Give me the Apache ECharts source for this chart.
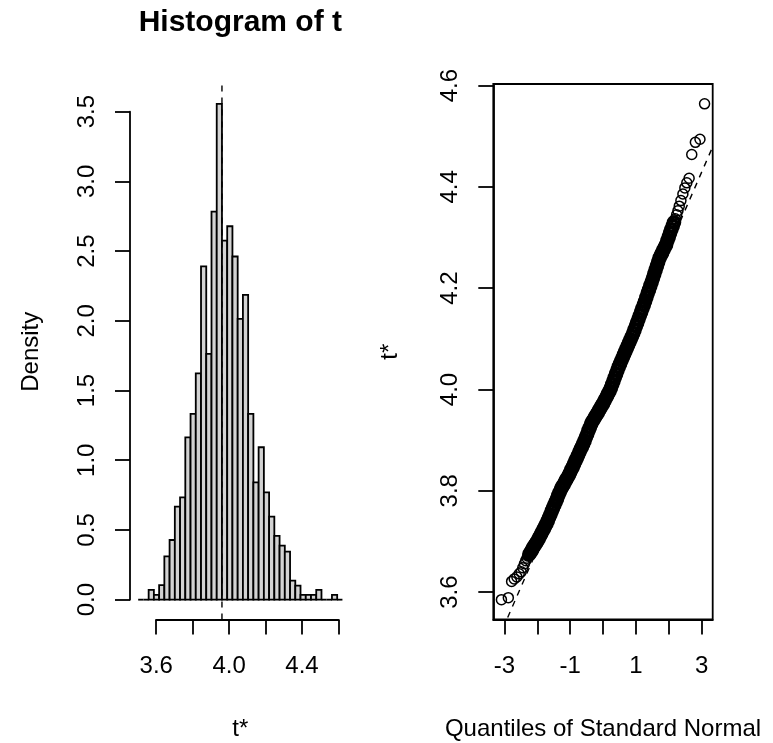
<!DOCTYPE html>
<html>
<head>
<meta charset="utf-8">
<script src="https://cdn.jsdelivr.net/npm/echarts@6/dist/echarts.min.js"></script>
<style>
html,body{margin:0;padding:0;background:#fff;}
#main{width:773px;height:743px;}
</style>
</head>
<body>
<div id="main"></div>
<script>
// histogram of the bootstrap replicates t*
var breaks = [3.5010, 3.5297, 3.5585, 3.5872, 3.6160, 3.6447, 3.6734, 3.7022, 3.7309, 3.7597,
	3.7884, 3.8171, 3.8459, 3.8746, 3.9034, 3.9321, 3.9608, 3.9896, 4.0183, 4.0471,
	4.0758, 4.1045, 4.1333, 4.1620, 4.1908, 4.2195, 4.2482, 4.2770, 4.3057, 4.3345,
	4.3632, 4.3919, 4.4207, 4.4494, 4.4782, 4.5069, 4.5356, 4.5644, 4.5931, 4.6219];
var density = [0, 0, 0.070, 0.035, 0.104, 0.310, 0.428, 0.667, 0.734, 1.164,
	1.332, 1.623, 2.391, 1.763, 2.783, 3.556, 2.575, 2.678, 2.461, 2.014,
	2.186, 1.332, 0.841, 1.093, 0.770, 0.595, 0.457, 0.387, 0.344, 0.136,
	0.100, 0.035, 0.035, 0.035, 0.070, 0, 0, 0.035, 0];
var t0 = 3.9608; // observed statistic, dashed line

var histXTicks = [3.6, 3.8, 4.0, 4.2, 4.4, 4.6];
var histXLabels = [3.6, 4.0, 4.4];

// normal QQ plot: theoretical quantile / sorted t*
var qqTheory = [-3.09, -2.88, -2.78, -2.70, -2.62, -2.55, -2.49, -2.44, -2.39, -2.35, -2.31, -2.28,
	-2.24, -2.20, -2.16, -2.12, -2.08, -2.04, -2.00, -1.96, -1.92, -1.88, -1.84, -1.80, -1.76, -1.72,
	-1.68, -1.64, -1.60, -1.56, -1.52, -1.48, -1.44, -1.40, -1.36, -1.32, -1.28, -1.24, -1.20, -1.16,
	-1.12, -1.08, -1.04, -1.00, -0.96, -0.92, -0.88, -0.84, -0.80, -0.76, -0.72, -0.68, -0.64, -0.60,
	-0.56, -0.52, -0.48, -0.44, -0.40, -0.36, -0.32, -0.28, -0.24, -0.20, -0.16, -0.12, -0.08, -0.04,
	0.00, 0.04, 0.08, 0.12, 0.16, 0.20, 0.24, 0.28, 0.32, 0.36, 0.40, 0.44, 0.48, 0.52, 0.56, 0.60,
	0.64, 0.68, 0.72, 0.76, 0.80, 0.84, 0.88, 0.92, 0.96, 1.00, 1.04, 1.08, 1.12, 1.16, 1.20, 1.24,
	1.28, 1.32, 1.36, 1.40, 1.44, 1.48, 1.52, 1.56, 1.60, 1.64, 1.68, 1.72, 1.76, 1.80, 1.84, 1.88,
	1.92, 1.96, 2.00, 2.04, 2.08, 2.12, 2.16,
	2.20, 2.24, 2.28, 2.32, 2.37, 2.43, 2.49, 2.55, 2.62, 2.70, 2.81, 2.95, 3.09];
var qqSample = [3.585, 3.589, 3.621, 3.626, 3.630, 3.636, 3.640, 3.648, 3.656, 3.662, 3.667, 3.671,
	3.675, 3.679, 3.683, 3.688, 3.692, 3.696, 3.700, 3.705, 3.710, 3.715, 3.720, 3.725, 3.730, 3.735,
	3.741, 3.747, 3.753, 3.760, 3.766, 3.772, 3.778, 3.784, 3.791, 3.797, 3.803, 3.808, 3.812, 3.817,
	3.822, 3.826, 3.831, 3.836, 3.842, 3.847, 3.853, 3.859, 3.864, 3.870, 3.876, 3.882, 3.887, 3.893,
	3.899, 3.906, 3.912, 3.919, 3.925, 3.932, 3.937, 3.941, 3.946, 3.950, 3.954, 3.959, 3.963, 3.968,
	3.972, 3.977, 3.982, 3.987, 3.992, 3.997, 4.003, 4.010, 4.017, 4.024, 4.031, 4.038, 4.045, 4.051,
	4.057, 4.063, 4.069, 4.075, 4.081, 4.087, 4.093, 4.099, 4.105, 4.111, 4.118, 4.125, 4.132, 4.139,
	4.146, 4.153, 4.160, 4.167, 4.174, 4.182, 4.190, 4.197, 4.205, 4.212, 4.220, 4.228, 4.236, 4.244,
	4.252, 4.260, 4.265, 4.270, 4.276, 4.281, 4.286, 4.294, 4.301, 4.309, 4.316, 4.323, 4.330,
	4.337, 4.345, 4.353, 4.362, 4.373, 4.386, 4.398, 4.408, 4.417, 4.464, 4.488, 4.494, 4.564];
// points 12..122 sit in the solid black part of the band
var qqDenseFrom = 12, qqDenseTo = 123;
var qqMean = 3.982, qqSd = 0.149; // reference line

var qqXTicks = [-3, -2, -1, 0, 1, 2, 3];
var qqXLabels = [-3, -1, 1, 3];
var qqYTicks = [3.6, 3.8, 4.0, 4.2, 4.4, 4.6];

var font = '"Liberation Sans", Arial, sans-serif';
var lw = 1.8;

// plot regions (like par(mfrow=c(1,2)) in R)
var plotTop = 84, plotH = 535.5;
var hLeft = 130, hWidth = 220.6;
var qLeft = 493.3, qWidth = 219.4;

// R style 4% axis extension
function ext(lo, hi) { var d = (hi - lo) * 0.04; return [lo - d, hi + d]; }
var hx = ext(breaks[0], breaks[breaks.length - 1]);
var hy = ext(0, Math.max.apply(null, density));
var qx = ext(Math.min.apply(null, qqTheory), Math.max.apply(null, qqTheory));
var qy = ext(Math.min.apply(null, qqSample), Math.max.apply(null, qqSample));

function px(v) { return hLeft + (v - hx[0]) / (hx[1] - hx[0]) * hWidth; }
function py(v) { return plotTop + plotH - (v - hy[0]) / (hy[1] - hy[0]) * plotH; }

var histData = [];
for (var i = 0; i < density.length; i++) histData.push([breaks[i], breaks[i + 1], density[i]]);
var qqAll = qqTheory.map(function (z, i) { return [z, qqSample[i]]; });
var qqDense = qqAll.slice(qqDenseFrom, qqDenseTo);
var qqSparse = qqAll.slice(0, qqDenseFrom).concat(qqAll.slice(qqDenseTo));

var black = {color: '#000', width: lw};
var hidden = {show: false};

var mychart = echarts.init(document.getElementById('main'));
var option = {
	animation: false,
	backgroundColor: '#fff',
	grid: [
		{left: hLeft, top: plotTop, width: hWidth, height: plotH, outerBoundsMode: 'none'},
		{left: px(3.6), top: plotTop, width: px(4.6) - px(3.6), height: plotH, outerBoundsMode: 'none'},
		{left: hLeft, top: py(3.5), width: hWidth, height: py(0) - py(3.5), outerBoundsMode: 'none'},
		{left: qLeft, top: plotTop, width: qWidth, height: plotH, show: true, borderColor: '#000', borderWidth: lw, backgroundColor: 'transparent', outerBoundsMode: 'none'}
	],
	xAxis: [
		{gridIndex: 0, type: 'value', min: hx[0], max: hx[1], show: false},
		{gridIndex: 1, type: 'value', min: 3.6, max: 4.6,
			axisLine: {show: true, lineStyle: black},
			axisTick: {show: true, length: 15, lineStyle: black, customValues: histXTicks},
			axisLabel: {customValues: histXLabels, margin: 35, fontSize: 24, fontFamily: font, color: '#000',
				formatter: function (v) { return v.toFixed(1); }},
			splitLine: hidden},
		{gridIndex: 2, type: 'value', min: hx[0], max: hx[1], show: false},
		{gridIndex: 3, type: 'value', min: qx[0], max: qx[1],
			axisLine: {show: true, onZero: false, lineStyle: black},
			axisTick: {show: true, length: 15, lineStyle: black, customValues: qqXTicks},
			axisLabel: {customValues: qqXLabels, margin: 35, fontSize: 24, fontFamily: font, color: '#000'},
			splitLine: hidden}
	],
	yAxis: [
		{gridIndex: 0, type: 'value', min: hy[0], max: hy[1], show: false},
		{gridIndex: 1, type: 'value', min: 0, max: 1, show: false},
		{gridIndex: 2, type: 'value', min: 0, max: 3.5, interval: 0.5,
			axisLine: {show: true, lineStyle: black},
			axisTick: {show: true, length: 15, lineStyle: black},
			axisLabel: {rotate: 90, margin: 31, fontSize: 24, fontFamily: font, color: '#000',
				formatter: function (v) { return v.toFixed(1); }},
			splitLine: hidden},
		{gridIndex: 3, type: 'value', min: qy[0], max: qy[1],
			axisLine: {show: true, onZero: false, lineStyle: black},
			axisTick: {show: true, length: 15, lineStyle: black, customValues: qqYTicks},
			axisLabel: {customValues: qqYTicks, rotate: 90, margin: 31, fontSize: 24, fontFamily: font, color: '#000',
				formatter: function (v) { return v.toFixed(1); }},
			splitLine: hidden}
	],
	series: [
		{
			type: 'custom', xAxisIndex: 0, yAxisIndex: 0, data: histData, silent: true,
			renderItem: function (params, api) {
				var p0 = api.coord([api.value(0), api.value(2)]);
				var p1 = api.coord([api.value(1), 0]);
				if (api.value(2) === 0) {
					return {type: 'line', shape: {x1: p0[0], y1: p1[1], x2: p1[0], y2: p1[1]},
						style: {stroke: '#000', lineWidth: lw}};
				}
				return {type: 'rect', shape: {x: p0[0], y: p0[1], width: p1[0] - p0[0], height: p1[1] - p0[1]},
					style: {fill: '#d3d3d3', stroke: '#000', lineWidth: lw}};
			}
		},
		{
			type: 'line', xAxisIndex: 0, yAxisIndex: 0, silent: true, symbol: 'none',
			data: [[t0, hy[0]], [t0, hy[1]]],
			lineStyle: {color: '#000', width: 1.4, type: [6, 6]}, z: 5
		},
		{
			type: 'scatter', xAxisIndex: 3, yAxisIndex: 3, silent: true, data: qqSparse,
			symbol: 'circle', symbolSize: 10,
			itemStyle: {color: 'rgba(0,0,0,0)', borderColor: '#000', borderWidth: 1.5, opacity: 1}
		},
		{
			type: 'scatter', xAxisIndex: 3, yAxisIndex: 3, silent: true, data: qqDense,
			symbol: 'circle', symbolSize: 11,
			itemStyle: {color: 'rgba(0,0,0,0)', borderColor: '#000', borderWidth: 3.6, opacity: 1}
		},
		{
			type: 'line', xAxisIndex: 3, yAxisIndex: 3, silent: true, symbol: 'none', clip: true,
			data: [[qx[0], qqMean + qqSd * qx[0]], [qx[1], qqMean + qqSd * qx[1]]],
			lineStyle: {color: '#000', width: 1.4, type: [6, 6]}, z: 5
		}
	],
	graphic: [
		{type: 'text', x: hLeft + hWidth / 2, y: 23, style: {text: 'Histogram of t', font: 'bold 30px ' + font,
			fill: '#000', align: 'center', verticalAlign: 'middle', textAlign: 'center', textVerticalAlign: 'middle'}},
		{type: 'text', x: 31, y: plotTop + plotH / 2, rotation: Math.PI / 2, style: {text: 'Density', font: '24px ' + font,
			fill: '#000', align: 'center', verticalAlign: 'middle', textAlign: 'center', textVerticalAlign: 'middle'}},
		{type: 'text', x: hLeft + hWidth / 2, y: 729, style: {text: 't*', font: '24px ' + font,
			fill: '#000', align: 'center', verticalAlign: 'middle', textAlign: 'center', textVerticalAlign: 'middle'}},
		{type: 'text', x: 390, y: plotTop + plotH / 2, rotation: Math.PI / 2, style: {text: 't*', font: '24px ' + font,
			fill: '#000', align: 'center', verticalAlign: 'middle', textAlign: 'center', textVerticalAlign: 'middle'}},
		{type: 'text', x: qLeft + qWidth / 2, y: 729, style: {text: 'Quantiles of Standard Normal', font: '24px ' + font,
			fill: '#000', align: 'center', verticalAlign: 'middle', textAlign: 'center', textVerticalAlign: 'middle'}}
	]
};
mychart.setOption(option);
</script>
</body>
</html>
